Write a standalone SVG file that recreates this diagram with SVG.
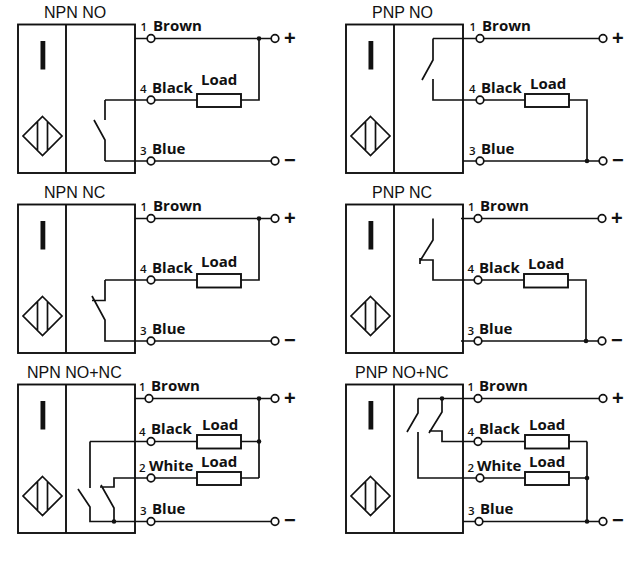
<svg xmlns="http://www.w3.org/2000/svg" width="640" height="576" viewBox="0 0 640 576">
<style>
text{fill:#111;font-family:"Open Sans","Noto Sans",sans-serif;font-weight:700;font-size:15px}
.t{font-family:"Liberation Sans",Arial,sans-serif;font-weight:400;font-size:16px}
.n{font-size:11.5px;font-weight:600}
.s{font-size:20px;font-family:"Liberation Sans",Arial,sans-serif;font-weight:700}
.b,.d,.w,.o,.l{stroke:#111;fill:none}
.b{stroke-width:1.9}
.d{stroke-width:1.7}
.w{stroke-width:1.7}
.o{fill:#fff;stroke-width:1.7}
.l{fill:#fff;stroke-width:1.9}
.j{fill:#111}
.bar{fill:#111}
</style>
<defs>
<g id="sensor">
<rect class="b" x="18" y="24.5" width="117" height="148.5"/>
<path class="b" d="M66 24.5V173"/>
<rect class="bar" x="40.5" y="41" width="4.8" height="28.5"/>
<path class="d" d="M42.5 116.5L62 136L42.5 155.5L23 136ZM37.5 121.5V150.5M47.5 121.5V150.5"/>
</g>
<circle id="term" class="o" r="3.8"/>
<circle id="dot" class="j" r="2.3"/>
</defs>
<g id="connectors">
<path class="w" d="M135 38.5H275M105 100H197M241 100H259V38.5M105 100V120M94 120L105 140V161M105 161H275M135 161H105"/>
<path class="w" d="M433 38.5H603M433 38.5V60L422 80M433 79V100H525M569 100H587V161M463 161H603"/>
<path class="w" d="M135 218.5H275M105 280H197M241 280H259V218.5M105 280V300.5H92M92 296L105 320V341H275"/>
<path class="w" d="M461 218.5H602M433 218.5V240L420 261M420 260H433V280H524M568 280H586V341M461 341H602M420 258V264"/>
<path class="w" d="M135 398.5H275M90 441.5H197M90 441.5V488M78 489L90 507V521.5H275M101 485L114 508V521.5M100 487H114V478H197M241 441.5H259M241 478H259M259 398.5V478"/>
<path class="w" d="M418 398.5H603M418 398.5V413L407 432M418 432V478H525M442 398.5V412L429 433M429 431H442V441.5H525M569 441.5H587M569 478H587M587 441.5V521.5M463 521.5H603"/>
<g>
<use href="#term" x="151" y="38.5"/><use href="#term" x="275" y="38.5"/><use href="#term" x="151" y="100"/><use href="#term" x="151" y="161"/><use href="#term" x="275" y="161"/>
<use href="#term" x="480" y="38.5"/><use href="#term" x="603" y="38.5"/><use href="#term" x="480" y="100"/><use href="#term" x="480" y="161"/><use href="#term" x="603" y="161"/>
<use href="#term" x="151" y="218.5"/><use href="#term" x="275" y="218.5"/><use href="#term" x="151" y="280"/><use href="#term" x="151" y="341"/><use href="#term" x="275" y="341"/>
<use href="#term" x="478" y="218.5"/><use href="#term" x="602" y="218.5"/><use href="#term" x="478" y="280"/><use href="#term" x="478" y="341"/><use href="#term" x="602" y="341"/>
<use href="#term" x="149" y="398.5"/><use href="#term" x="275" y="398.5"/><use href="#term" x="151" y="441.5"/><use href="#term" x="151" y="478"/><use href="#term" x="151" y="521.5"/><use href="#term" x="275" y="521.5"/>
<use href="#term" x="478" y="398.5"/><use href="#term" x="603" y="398.5"/><use href="#term" x="478" y="441.5"/><use href="#term" x="480" y="478"/><use href="#term" x="479" y="521.5"/><use href="#term" x="603" y="521.5"/>
</g>
<g>
<use href="#dot" x="259" y="38.5"/><use href="#dot" x="587" y="161"/><use href="#dot" x="259" y="218.5"/><use href="#dot" x="586" y="341"/>
<use href="#dot" x="259" y="398.5"/><use href="#dot" x="259" y="441.5"/><use href="#dot" x="114" y="521.5"/>
<use href="#dot" x="442" y="398.5"/><use href="#dot" x="587" y="478"/><use href="#dot" x="587" y="521.5"/>
</g>
</g>
<g id="npn-no">
<use href="#sensor"/>
<text class="t" x="44" y="18">NPN NO</text>
<text class="n" x="140.5" y="31">1</text><text x="153" y="30.5">Brown</text>
<text class="n" x="140" y="93">4</text><text x="152" y="92.5">Black</text>
<text class="n" x="140" y="155">3</text><text x="152" y="154">Blue</text>
<rect class="l" x="197" y="94" width="44" height="13"/><text x="201" y="85">Load</text>
<text class="s" x="284" y="45">+</text><text class="s" x="284" y="167">−</text>
</g>
<g id="pnp-no">
<use href="#sensor" x="328"/>
<text class="t" x="372" y="18">PNP NO</text>
<text class="n" x="469.5" y="31">1</text><text x="482" y="30.5">Brown</text>
<text class="n" x="469" y="93">4</text><text x="481" y="92.5">Black</text>
<text class="n" x="469" y="155">3</text><text x="481" y="154">Blue</text>
<rect class="l" x="525" y="94" width="44" height="13"/><text x="530" y="89">Load</text>
<text class="s" x="612" y="45">+</text><text class="s" x="612" y="167">−</text>
</g>
<g id="npn-nc">
<use href="#sensor" y="180"/>
<text class="t" x="44" y="198">NPN NC</text>
<text class="n" x="140.5" y="211">1</text><text x="153" y="210.5">Brown</text>
<text class="n" x="140" y="273">4</text><text x="152" y="272.5">Black</text>
<text class="n" x="140" y="335">3</text><text x="152" y="334">Blue</text>
<rect class="l" x="197" y="274" width="44" height="13.5"/><text x="201" y="267">Load</text>
<text class="s" x="284" y="225">+</text><text class="s" x="284" y="347">−</text>
</g>
<g id="pnp-nc">
<use href="#sensor" x="328" y="180"/>
<text class="t" x="372" y="198">PNP NC</text>
<text class="n" x="468" y="211">1</text><text x="480" y="210.5">Brown</text>
<text class="n" x="467.5" y="273">4</text><text x="479" y="272.5">Black</text>
<text class="n" x="467.5" y="335">3</text><text x="479" y="334">Blue</text>
<rect class="l" x="524" y="274" width="44" height="13.5"/><text x="528" y="269">Load</text>
<text class="s" x="611" y="225">+</text><text class="s" x="611" y="347">−</text>
</g>
<g id="npn-no-nc">
<use href="#sensor" y="360"/>
<text class="t" x="27" y="378">NPN NO+NC</text>
<text class="n" x="139" y="391">1</text><text x="151" y="390.5">Brown</text>
<text class="n" x="139" y="436">4</text><text x="151" y="434">Black</text>
<text class="n" x="139" y="472">2</text><text x="149" y="471">White</text>
<text class="n" x="140" y="515">3</text><text x="152" y="514">Blue</text>
<rect class="l" x="197" y="435" width="44" height="13.5"/><text x="202" y="430">Load</text>
<rect class="l" x="197" y="472" width="44" height="13"/><text x="201" y="467">Load</text>
<text class="s" x="284" y="405">+</text><text class="s" x="284" y="527">−</text>
</g>
<g id="pnp-no-nc">
<use href="#sensor" x="328" y="360"/>
<text class="t" x="355" y="378">PNP NO+NC</text>
<text class="n" x="467.5" y="391">1</text><text x="479" y="390.5">Brown</text>
<text class="n" x="467.5" y="436">4</text><text x="479" y="434">Black</text>
<text class="n" x="467.5" y="472">2</text><text x="477" y="471">White</text>
<text class="n" x="468" y="515">3</text><text x="480" y="514">Blue</text>
<rect class="l" x="525" y="435" width="44" height="13.5"/><text x="529" y="430">Load</text>
<rect class="l" x="525" y="472" width="44" height="13"/><text x="529" y="467">Load</text>
<text class="s" x="612" y="405">+</text><text class="s" x="612" y="527">−</text>
</g>
</svg>
